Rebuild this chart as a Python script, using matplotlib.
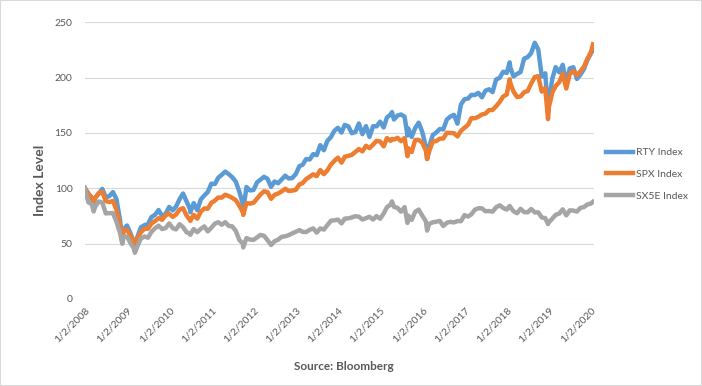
import pandas as pd
import matplotlib
matplotlib.use('Agg')
import matplotlib.pyplot as plt
from matplotlib.patches import Rectangle

# -----------------
# Data (index level, 1/2/2008 = 100), month-end readings
# -----------------

start_date = '2008-01-02'
end_date = '2020-01-17'

rty = [94.9, 91.2, 91.5, 95.1, 99.5, 91.7, 93.0, 96.6, 90.4, 71.5, 62.9, 66.4,
       59.0, 51.7, 56.2, 64.8, 66.7, 67.6, 74.1, 76.1, 80.4, 74.8, 77.1, 83.2,
       80.1, 83.4, 90.2, 95.3, 88.1, 81.0, 86.6, 80.1, 89.9, 93.5, 96.7, 104.2,
       103.9, 109.5, 112.2, 115.1, 112.8, 110.0, 106.0, 96.7, 85.7, 101.2, 98.1, 98.5,
       105.4, 107.8, 110.4, 108.6, 101.3, 106.2, 104.6, 108.0, 111.4, 108.9, 109.3, 112.9,
       120.0, 121.2, 126.5, 126.0, 130.9, 130.0, 139.0, 134.4, 142.8, 146.3, 152.0, 154.7,
       150.4, 157.3, 156.0, 149.8, 150.9, 158.6, 148.9, 156.2, 146.5, 156.1, 156.0, 160.2,
       155.0, 164.0, 166.6, 162.2, 165.8, 166.7, 164.7, 154.2, 146.4, 154.5, 159.3, 151.0,
       137.7, 137.5, 148.1, 150.4, 153.6, 153.2, 162.2, 164.9, 166.4, 158.4, 175.8, 180.5,
       181.1, 184.4, 184.3, 186.2, 182.2, 188.2, 189.5, 186.9, 198.3, 199.8, 205.3, 204.2,
       209.4, 201.1, 203.4, 205.0, 217.2, 218.5, 222.2, 231.5, 225.6, 201.0, 203.9, 179.3,
       199.4, 209.5, 204.8, 211.6, 194.9, 208.3, 209.4, 198.8, 202.6, 207.8, 216.0, 221.9]

spx = [95.3, 91.9, 91.4, 95.7, 96.8, 88.4, 87.6, 88.6, 80.6, 66.9, 61.9, 62.4,
       57.1, 50.8, 55.1, 60.3, 63.5, 63.5, 68.2, 70.5, 73.0, 71.6, 75.7, 77.1,
       74.2, 76.3, 80.8, 82.0, 75.3, 71.2, 76.1, 72.5, 78.9, 81.8, 81.6, 86.9,
       88.9, 91.7, 91.6, 94.2, 93.0, 91.3, 89.3, 84.2, 78.2, 86.6, 86.2, 86.9,
       90.7, 94.4, 97.3, 96.6, 90.5, 94.1, 95.3, 97.2, 99.6, 97.6, 97.9, 98.6,
       103.5, 104.7, 108.4, 110.4, 112.7, 111.0, 116.5, 112.8, 116.2, 121.4, 124.8, 127.7,
       123.2, 128.5, 129.4, 130.2, 132.9, 135.5, 133.4, 138.4, 136.3, 139.5, 142.9, 142.3,
       137.9, 145.4, 142.9, 144.1, 145.6, 142.6, 145.4, 136.3, 132.7, 143.7, 143.8, 141.2,
       134.1, 133.5, 142.3, 142.7, 144.9, 145.0, 150.2, 150.0, 149.8, 146.9, 151.9, 154.7,
       157.5, 163.3, 163.3, 164.7, 166.7, 167.5, 170.7, 170.8, 174.1, 178.0, 182.9, 184.7,
       195.1, 187.5, 182.5, 183.0, 186.9, 187.8, 194.6, 200.5, 201.4, 187.4, 190.7, 173.2,
       186.9, 192.4, 195.9, 203.6, 190.2, 203.3, 205.9, 202.2, 205.7, 209.9, 217.0, 223.3]

sx5e = [87.4, 85.8, 83.6, 88.2, 87.1, 77.3, 77.6, 77.6, 70.0, 59.7, 56.0, 56.4,
        50.3, 45.5, 47.7, 54.7, 56.5, 55.4, 60.8, 64.0, 66.2, 63.2, 64.1, 68.3,
        64.0, 62.9, 67.6, 64.9, 60.2, 59.3, 63.2, 60.4, 63.3, 65.6, 61.1, 64.4,
        68.1, 69.4, 67.1, 69.4, 66.0, 65.6, 61.5, 53.1, 50.2, 55.0, 53.7, 53.4,
        55.7, 57.9, 57.1, 53.2, 48.8, 52.2, 53.6, 56.2, 56.6, 57.7, 59.3, 60.7,
        62.3, 60.7, 60.5, 62.5, 63.8, 60.0, 63.8, 62.7, 66.7, 70.7, 71.1, 71.7,
        68.3, 72.6, 72.9, 73.7, 74.8, 74.4, 71.8, 73.1, 74.3, 71.8, 74.9, 72.5,
        77.2, 82.9, 85.2, 83.3, 82.3, 78.9, 83.0, 75.4, 71.5, 78.8, 80.8, 75.3,
        70.2, 67.9, 69.3, 69.8, 70.6, 66.0, 68.9, 69.7, 69.2, 70.4, 70.3, 75.8,
        74.5, 76.5, 80.7, 82.0, 81.9, 79.3, 79.5, 78.9, 82.8, 84.7, 82.3, 80.8,
        83.2, 79.3, 77.5, 81.5, 78.5, 78.3, 81.3, 78.2, 78.3, 73.7, 73.1, 69.2,
        72.8, 76.0, 77.2, 81.0, 75.6, 80.1, 79.9, 79.0, 82.3, 83.1, 85.4, 86.3]

# intra-month highs / lows that show up in the chart
extra_dates = ['2008-03-17', '2008-11-20', '2009-03-09', '2010-07-02', '2011-10-03',
               '2015-04-13', '2015-08-25', '2016-02-11', '2018-01-26', '2018-12-24']
extra_rty = [87.0, 51.6, 45.6, 78.4, 80.5, 168.9, 147.7, 126.7, 213.8, 168.4]
extra_spx = [88.2, 52.0, 46.7, 70.6, 76.0, 144.6, 129.0, 126.4, 198.5, 162.5]
extra_sx5e = [79.1, 49.9, 41.7, 58.0, 46.6, 88.2, 68.7, 61.8, 84.1, 67.7]

# first and last points
first_vals = [100.0, 100.0, 100.0]
last_vals = [225.3, 230.1, 87.8]

series_names = ['RTY Index', 'SPX Index', 'SX5E Index']
colors = ['#5B9BD5', '#ED7D31', '#A5A5A5']

tick_years = list(range(2008, 2021))

# -----------------
# Data Preparation
# -----------------

month_ends = pd.date_range('2008-01-31', periods=len(rty), freq='ME')
df = pd.DataFrame({'RTY Index': rty, 'SPX Index': spx, 'SX5E Index': sx5e}, index=month_ends)
df_extra = pd.DataFrame({'RTY Index': extra_rty, 'SPX Index': extra_spx, 'SX5E Index': extra_sx5e},
                        index=pd.to_datetime(extra_dates))
df_ends = pd.DataFrame([first_vals, last_vals], columns=series_names,
                       index=pd.to_datetime([start_date, end_date]))
df = pd.concat([df_ends, df, df_extra]).sort_index()

# -----------------
# Plot
# -----------------

plt.rcParams['font.family'] = ['Lato', 'DejaVu Sans']
text_color = '#595959'

fig = plt.figure(figsize=(7.02, 3.86), dpi=100)
ax = fig.add_axes([85 / 702, 1 - 299 / 386, (594 - 85) / 702, (299 - 22.3) / 386])

for name, color in zip(series_names, colors):
    ax.plot(df.index, df[name], color=color, linewidth=3.2, label=name, solid_joinstyle='round')

ax.set_ylim(0, 250)
ax.set_yticks(range(0, 251, 50))
ax.set_xlim(pd.Timestamp('2008-01-02'), pd.Timestamp('2020-01-26'))
ticks = pd.to_datetime([f'{y}-01-02' for y in tick_years])
ax.set_xticks(ticks)
ax.set_xticklabels([f'1/2/{y}' for y in tick_years], rotation=45, ha='right',
                   va='top', rotation_mode='anchor')

ax.grid(axis='y', color='#D9D9D9', linewidth=0.8)
ax.set_axisbelow(True)
for side in ax.spines:
    ax.spines[side].set_visible(False)
ax.tick_params(axis='both', length=0, labelsize=7.5, labelcolor=text_color)
ax.tick_params(axis='y', pad=9)
ax.tick_params(axis='x', pad=5)

fig.text(40 / 702, 1 - 180 / 386, 'Index Level', rotation=90, ha='center', va='center',
         fontsize=10, fontweight='bold', color=text_color)
fig.text(344 / 702, 1 - 367 / 386, 'Source: Bloomberg', ha='center', va='center',
         fontsize=8.5, fontweight='bold', color=text_color)

ax.legend(loc='upper left', bbox_to_anchor=(606 / 702, 1 - 148 / 386),
          bbox_transform=fig.transFigure, frameon=False, fontsize=7.5,
          labelcolor=text_color, handlelength=2.6, handletextpad=0.25,
          labelspacing=1.2, borderpad=0, borderaxespad=0)

fig.patches.append(Rectangle((0, 0), 1, 1, transform=fig.transFigure, fill=False,
                             edgecolor='#D9D9D9', linewidth=1.5))

fig.savefig('out.png', dpi=100)
